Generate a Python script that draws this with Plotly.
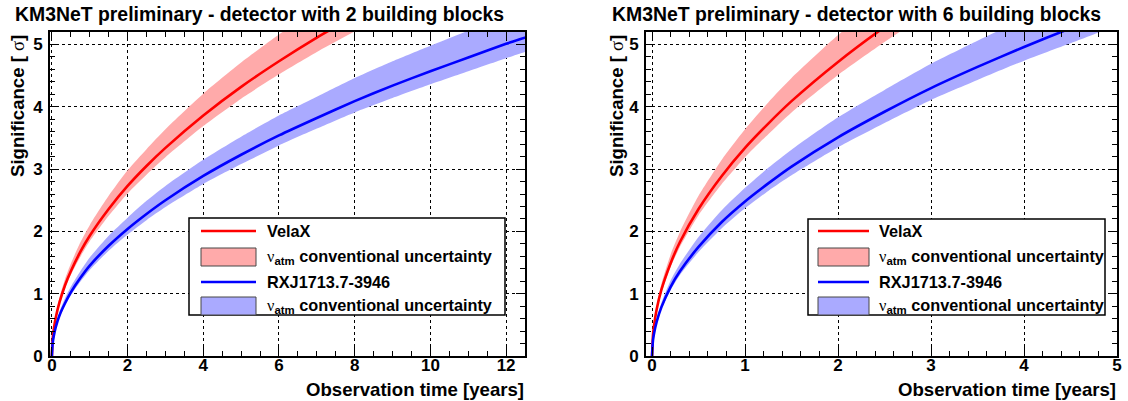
import plotly.graph_objects as go

# ---------------- data ----------------
# detector with 2 building blocks
t_velax_2bb = [0, 0.02, 0.05, 0.1, 0.2, 0.35, 0.5, 0.75, 1, 1.5, 2, 2.5, 3, 4, 5, 6, 7, 8]
velax_2bb = [0, 0.27, 0.43, 0.61, 0.86, 1.14, 1.36, 1.67, 1.93, 2.36, 2.73, 3.05, 3.34, 3.86, 4.32, 4.73, 5.11, 5.46]
velax_2bb_hi = [0, 0.30, 0.47, 0.66, 0.94, 1.24, 1.48, 1.82, 2.10, 2.57, 2.98, 3.32, 3.64, 4.21, 4.71, 5.16, 5.57, 5.95]
velax_2bb_lo = [0, 0.26, 0.41, 0.58, 0.82, 1.09, 1.30, 1.59, 1.84, 2.25, 2.61, 2.91, 3.19, 3.69, 4.13, 4.52, 4.88, 5.21]

t_rxj_2bb = [0, 0.02, 0.05, 0.1, 0.2, 0.35, 0.5, 0.75, 1, 1.5, 2, 2.5, 3, 4, 5, 6, 7, 8, 9, 10, 11, 12, 12.5, 13]
rxj_2bb = [0, 0.20, 0.32, 0.46, 0.65, 0.85, 1.02, 1.25, 1.45, 1.77, 2.04, 2.28, 2.50, 2.89, 3.23, 3.54, 3.82, 4.09, 4.34, 4.57, 4.79, 5.01, 5.11, 5.21]
rxj_2bb_hi = [0, 0.22, 0.35, 0.50, 0.71, 0.93, 1.11, 1.36, 1.58, 1.93, 2.22, 2.49, 2.73, 3.15, 3.52, 3.86, 4.16, 4.46, 4.73, 4.98, 5.22, 5.46, 5.57, 5.68]
rxj_2bb_lo = [0, 0.19, 0.31, 0.44, 0.62, 0.81, 0.97, 1.19, 1.38, 1.69, 1.95, 2.18, 2.39, 2.76, 3.08, 3.38, 3.65, 3.91, 4.14, 4.36, 4.57, 4.78, 4.88, 4.98]

# detector with 6 building blocks
t_velax_6bb = [0, 0.01, 0.02, 0.05, 0.1, 0.2, 0.3, 0.5, 0.75, 1, 1.25, 1.5, 2, 2.5, 3]
velax_6bb = [0, 0.33, 0.47, 0.75, 1.06, 1.49, 1.83, 2.36, 2.89, 3.34, 3.73, 4.09, 4.72, 5.28, 5.79]
velax_6bb_hi = [0, 0.36, 0.51, 0.81, 1.15, 1.63, 1.99, 2.57, 3.15, 3.64, 4.07, 4.46, 5.15, 5.76, 6.31]
velax_6bb_lo = [0, 0.32, 0.45, 0.71, 1.01, 1.43, 1.75, 2.26, 2.76, 3.19, 3.56, 3.91, 4.51, 5.04, 5.53]

t_rxj_6bb = [0, 0.01, 0.02, 0.05, 0.1, 0.2, 0.3, 0.5, 0.75, 1, 1.25, 1.5, 2, 2.5, 3, 3.5, 4, 4.5, 5, 5.2]
rxj_6bb = [0, 0.25, 0.35, 0.55, 0.78, 1.11, 1.36, 1.75, 2.15, 2.48, 2.77, 3.04, 3.51, 3.92, 4.30, 4.64, 4.96, 5.26, 5.55, 5.66]
rxj_6bb_hi = [0, 0.27, 0.38, 0.60, 0.85, 1.21, 1.48, 1.91, 2.34, 2.70, 3.02, 3.31, 3.83, 4.27, 4.69, 5.06, 5.41, 5.73, 6.05, 6.17]
rxj_6bb_lo = [0, 0.24, 0.33, 0.53, 0.75, 1.06, 1.30, 1.67, 2.05, 2.37, 2.65, 2.90, 3.35, 3.74, 4.11, 4.43, 4.74, 5.02, 5.30, 5.40]

titles = ["KM3NeT preliminary - detector with 2 building blocks",
          "KM3NeT preliminary - detector with 6 building blocks"]
legend_labels = ["VelaX", "conventional uncertainty", "RXJ1713.7-3946", "conventional uncertainty"]
x_title = "Observation time [years]"
y_title = "Significance [ σ]"

RED = "rgb(255,0,0)"
BLUE = "rgb(0,0,255)"
RED_BAND = "rgb(255,170,170)"
BLUE_BAND = "rgb(170,170,255)"
FONT = "Liberation Sans, Arial, Helvetica, sans-serif"
W, H = 1128, 401

fig = go.Figure()


def add_source(t, c, hi, lo, line_col, band_col, xa, ya):
    fig.add_trace(go.Scatter(x=t, y=lo, mode="lines", line=dict(width=0, shape="spline", smoothing=0.6),
                             showlegend=False, hoverinfo="skip", xaxis=xa, yaxis=ya))
    fig.add_trace(go.Scatter(x=t, y=hi, mode="lines", line=dict(width=0, shape="spline", smoothing=0.6),
                             fill="tonexty", fillcolor=band_col, showlegend=False, hoverinfo="skip",
                             xaxis=xa, yaxis=ya))
    fig.add_trace(go.Scatter(x=t, y=c, mode="lines", line=dict(width=2.6, color=line_col, shape="spline", smoothing=0.6),
                             showlegend=False, xaxis=xa, yaxis=ya))


add_source(t_velax_2bb, velax_2bb, velax_2bb_hi, velax_2bb_lo, RED, RED_BAND, "x", "y")
add_source(t_rxj_2bb, rxj_2bb, rxj_2bb_hi, rxj_2bb_lo, BLUE, BLUE_BAND, "x", "y")
add_source(t_velax_6bb, velax_6bb, velax_6bb_hi, velax_6bb_lo, RED, RED_BAND, "x2", "y2")
add_source(t_rxj_6bb, rxj_6bb, rxj_6bb_hi, rxj_6bb_lo, BLUE, BLUE_BAND, "x2", "y2")

ax_common = dict(showline=True, linecolor="black", linewidth=2, mirror="allticks",
                 ticks="inside", ticklen=9, tickwidth=1, tickcolor="black",
                 showgrid=True, gridcolor="black", griddash="dot", gridwidth=1,
                 zeroline=False, automargin=False,
                 tickfont=dict(family=FONT, size=17, color="black", weight="bold"))
minor_common = dict(ticks="inside", ticklen=5, tickcolor="black", showgrid=False)
# fine (tertiary) ticks on the left y axes, as ROOT draws them
fine_ticks = dict(range=[0, 5.2], tick0=0, dtick=0.04, ticks="inside", ticklen=2.5, tickwidth=1,
                  tickcolor="black", showline=False, showgrid=False, zeroline=False,
                  showticklabels=False, side="left", automargin=False)

plot_top, plot_bot = 32, 356
ydom = [1 - plot_bot / H, 1 - plot_top / H]
left_box = (50, 525)
right_box = (646, 1117)

fig.update_layout(
    template="none",
    width=W, height=H, autosize=False, margin=dict(l=0, r=0, t=0, b=0, pad=0),
    paper_bgcolor="white", plot_bgcolor="white", showlegend=False,
    font=dict(family=FONT, color="black"),
    xaxis=dict(domain=[left_box[0] / W, left_box[1] / W], anchor="y", range=[-0.05, 12.5],
               tick0=0, dtick=2, minor=dict(dtick=0.5, **minor_common), ticklabelstandoff=-7,
               **ax_common),
    yaxis=dict(domain=ydom, anchor="x", range=[0, 5.2], tick0=0, dtick=1,
               minor=dict(dtick=0.2, **minor_common), ticklabelstandoff=2,
               **ax_common),
    xaxis2=dict(domain=[right_box[0] / W, right_box[1] / W], anchor="y2", range=[-0.065, 5.0],
                tick0=0, dtick=1, minor=dict(dtick=0.2, **minor_common), ticklabelstandoff=-7,
                **ax_common),
    yaxis2=dict(domain=ydom, anchor="x2", range=[0, 5.2], tick0=0, dtick=1,
                minor=dict(dtick=0.2, **minor_common), ticklabelstandoff=2,
                **ax_common),
    yaxis3=dict(overlaying="y", anchor="x", **fine_ticks),
    yaxis4=dict(overlaying="y2", anchor="x2", **fine_ticks),
)

annotations = []
shapes = []


def px(x):
    return x / W


def py(y):
    return 1 - y / H


def add_panel_text(title, title_x, box, ytitle_x):
    annotations.append(dict(text="<b>" + title + "</b>", x=px(title_x), y=py(14), xref="paper", yref="paper",
                            xanchor="left", yanchor="middle", showarrow=False,
                            font=dict(family=FONT, size=19.4, color="black")))
    annotations.append(dict(text="<b>" + x_title + "</b>", x=px(box[1] + 1), y=py(389), xref="paper", yref="paper",
                            xanchor="right", yanchor="middle", showarrow=False,
                            font=dict(family=FONT, size=18.6, color="black")))
    annotations.append(dict(text="<b>Significance [ </b><span style=\"font-family:'Liberation Serif'\">σ</span><b>]</b>",
                            x=px(ytitle_x), y=py(plot_top + 1), xref="paper", yref="paper",
                            xanchor="center", yanchor="top", textangle=-90, showarrow=False,
                            font=dict(family=FONT, size=18.6, color="black")))


def add_legend(x0, x1, y0, y1, sx0, sx1, tx):
    shapes.append(dict(type="rect", xref="paper", yref="paper", x0=px(x0), x1=px(x1), y0=py(y1), y1=py(y0),
                       line=dict(color="black", width=1.5), fillcolor="white", layer="above"))
    rows = [231, 257, 282, 306]
    kinds = [("line", RED), ("box", RED_BAND), ("line", BLUE), ("box", BLUE_BAND)]
    for (kind, col), ry, lab in zip(kinds, rows, legend_labels):
        if kind == "line":
            shapes.append(dict(type="line", xref="paper", yref="paper", x0=px(sx0), x1=px(sx1), y0=py(ry), y1=py(ry),
                               line=dict(color=col, width=2.6), layer="above"))
            txt = "<b>" + lab + "</b>"
        else:
            shapes.append(dict(type="rect", xref="paper", yref="paper", x0=px(sx0), x1=px(sx1),
                               y0=py(ry + 9), y1=py(ry - 9), line=dict(color="rgb(70,70,70)", width=1),
                               fillcolor=col, layer="above"))
            txt = "<span style=\"font-family:'Liberation Serif'\">ν</span><sub><b>atm</b></sub><b> " + lab + "</b>"
        annotations.append(dict(text=txt, x=px(tx), y=py(ry), xref="paper", yref="paper",
                                xanchor="left", yanchor="middle", showarrow=False,
                                font=dict(family=FONT, size=16.3, color="black")))


add_panel_text(titles[0], 13, left_box, 17)
add_panel_text(titles[1], 610, right_box, 616)
add_legend(189, 505, 218, 315, 201, 256, 265)
add_legend(808, 1105, 219, 315, 818, 869, 877)

fig.update_layout(annotations=annotations, shapes=shapes)
post = ("var h=document.documentElement,b=document.body;"
        "[h,b].forEach(function(e){e.style.margin='0';e.style.padding='0';e.style.overflow='hidden';"
        "e.style.height='401px';e.style.width='1128px';});"
        "var g=document.querySelector('.plotly-graph-div');"
        "if(g){var p=g.parentElement;p.style.height='401px';p.style.width='1128px';p.style.overflow='hidden';"
        "p.style.lineHeight='0';g.style.display='block';}")
fig.write_html("out.html", post_script=post, config={"displayModeBar": False, "responsive": False})
